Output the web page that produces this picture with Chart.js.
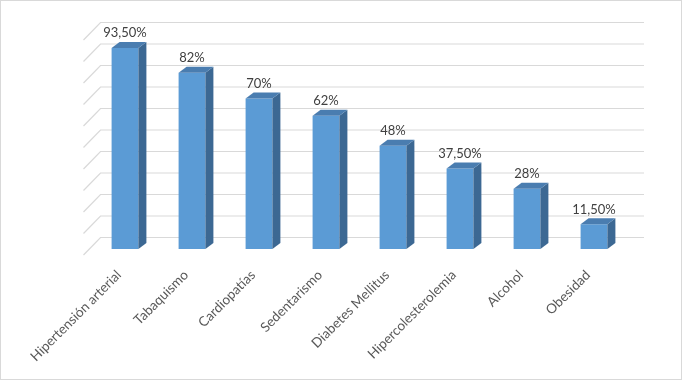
<!DOCTYPE html>
<html>
<head>
<meta charset="utf-8">
<script src="https://cdn.jsdelivr.net/npm/chart.js@4"></script>
<style>
html,body{margin:0;padding:0;background:#fff;}
#wrap{width:683px;height:381px;position:relative;}
</style>
</head>
<body>
<div id="wrap"><canvas id="c" width="683" height="381"></canvas></div>
<script>
const categories = ["Hipertensión arterial","Tabaquismo","Cardiopatías","Sedentarismo","Diabetes Mellitus","Hipercolesterolemia","Alcohol","Obesidad"];
const values = [93.5, 82, 70, 62, 48, 37.5, 28, 11.5];
const yTicks = [0,10,20,30,40,50,60,70,80,90,100];

function fmt(v){
  if (Number.isInteger(v)) return v + "%";
  return v.toFixed(2).replace(".", ",") + "%";
}

const DX = 8, DY = 6; // bar depth
const threeD = {
  id: 'threeD',
  beforeDraw(chart){
    const ctx = chart.ctx;
    ctx.save();
    ctx.fillStyle = '#fff';
    ctx.fillRect(0,0,chart.width,chart.height);
    ctx.restore();
  },
  beforeDatasetsDraw(chart){
    const ctx = chart.ctx, ys = chart.scales.y, a = chart.chartArea;
    ctx.save();
    ctx.strokeStyle = '#d9d9d9';
    ctx.lineWidth = 1.2;
    yTicks.forEach(t => {
      const y = ys.getPixelForValue(t);
      ctx.beginPath();
      ctx.moveTo(a.left - 8, y + 6);
      ctx.lineTo(a.left + 9, y - 11.5);
      ctx.lineTo(a.right + 16.5, y - 11.5);
      ctx.stroke();
    });
    ctx.restore();
  },
  afterDatasetsDraw(chart){
    const ctx = chart.ctx;
    const meta = chart.getDatasetMeta(0);
    ctx.save();
    meta.data.forEach((bar, i) => {
      const w = bar.width, x0 = bar.x - w/2, x1 = bar.x + w/2, yt = bar.y, yb = bar.base;
      ctx.fillStyle = '#3c6893';
      ctx.beginPath();
      ctx.moveTo(x1, yt); ctx.lineTo(x1+DX, yt-DY); ctx.lineTo(x1+DX, yb-DY); ctx.lineTo(x1, yb); ctx.closePath();
      ctx.fill();
      ctx.fillStyle = '#4a7db0';
      ctx.beginPath();
      ctx.moveTo(x0, yt); ctx.lineTo(x0+DX, yt-DY); ctx.lineTo(x1+DX, yt-DY); ctx.lineTo(x1, yt); ctx.closePath();
      ctx.fill();
      ctx.fillStyle = '#404040';
      ctx.font = '13px Lato';
      ctx.textAlign = 'center';
      ctx.textBaseline = 'alphabetic';
      ctx.fillText(fmt(values[i]), bar.x, yt - 10.5);
    });
    ctx.strokeStyle = '#d9d9d9';
    ctx.lineWidth = 1;
    ctx.strokeRect(0.5, 0.5, 681, 379);
    ctx.restore();
  }
};

new Chart(document.getElementById('c'), {
  type: 'bar',
  data: {
    labels: categories,
    datasets: [{
      data: values,
      backgroundColor: '#5b9bd5',
      borderWidth: 0,
      categoryPercentage: 1,
      barPercentage: 0.4
    }]
  },
  options: {
    responsive: false,
    animation: false,
    devicePixelRatio: 1,
    layout: { padding: { left: 91.5, right: 55.5, top: 34, bottom: 0 } },
    plugins: { legend: { display: false }, tooltip: { enabled: false } },
    scales: {
      y: { display: false, min: 0, max: 100 },
      x: {
        grid: { display: false },
        border: { display: false },
        ticks: {
          color: '#595959',
          font: { family: 'Lato', size: 13.5 },
          minRotation: 45, maxRotation: 45,
          padding: 10,
          labelOffset: -6
        },
        afterFit(s){ s.height = 381 - 249; }
      }
    }
  },
  plugins: [threeD]
});
</script>
</body>
</html>
